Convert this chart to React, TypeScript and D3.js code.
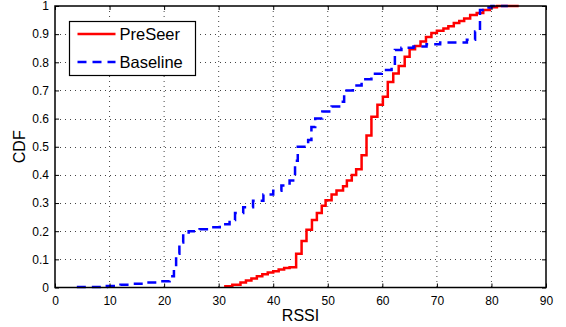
import React, { useEffect, useRef } from "react";
import * as d3 from "d3";

const preseerX = [31, 32.5, 34, 35, 36, 37, 38, 39, 40, 41, 42, 43, 44.2, 45.2, 46.1, 47.1, 48, 48.9, 49.6, 50.7, 51.6, 52.8, 53.5, 54.4, 55.2, 56.2, 57.1, 58, 59.1, 60.1, 61, 62, 63, 64.1, 65, 66, 67, 68, 69, 70, 71.2, 72.1, 73.1, 74.1, 75, 76.1, 77.3, 78.5, 79.7, 81, 85];
const preseerY = [0.004, 0.01, 0.018, 0.025, 0.032, 0.04, 0.047, 0.053, 0.058, 0.064, 0.069, 0.072, 0.12, 0.165, 0.205, 0.24, 0.265, 0.29, 0.31, 0.33, 0.345, 0.36, 0.38, 0.4, 0.42, 0.47, 0.54, 0.607, 0.649, 0.678, 0.73, 0.76, 0.787, 0.82, 0.846, 0.858, 0.874, 0.89, 0.904, 0.912, 0.92, 0.928, 0.94, 0.947, 0.956, 0.968, 0.975, 0.986, 0.996, 1, 1];

const baselineX = [4, 9.5, 12, 14.3, 16.8, 19.2, 21, 21.8, 22.2, 22.8, 23.5, 24.5, 26.5, 28.1, 30.2, 32, 33, 34.5, 36.3, 38.2, 40, 41.5, 43, 44, 44.5, 46.4, 47, 47.7, 49, 50.7, 52.5, 53, 54.6, 56.2, 58, 59.9, 61.7, 62.3, 63.5, 65.7, 68.1, 70.6, 75.5, 77, 77.9, 79, 80, 83];
const baselineY = [0.002, 0.005, 0.01, 0.013, 0.018, 0.022, 0.04, 0.08, 0.12, 0.16, 0.19, 0.2, 0.207, 0.214, 0.225, 0.24, 0.265, 0.285, 0.308, 0.33, 0.344, 0.362, 0.38, 0.45, 0.5, 0.524, 0.57, 0.6, 0.625, 0.643, 0.66, 0.7, 0.718, 0.74, 0.759, 0.773, 0.782, 0.844, 0.852, 0.856, 0.864, 0.87, 0.88, 0.909, 0.986, 0.995, 1, 1];

const xTicks = [0, 10, 20, 30, 40, 50, 60, 70, 80, 90];
const yTicks = [0, 0.1, 0.2, 0.3, 0.4, 0.5, 0.6, 0.7, 0.8, 0.9, 1];

const series = [
  { name: "PreSeer", xs: preseerX, ys: preseerY, color: "#ff0000", dash: "" },
  { name: "Baseline", xs: baselineX, ys: baselineY, color: "#0000ff", dash: "9,6" },
];

export default function App() {
  const svgRef = useRef<SVGSVGElement>(null);

  useEffect(() => {
    if (!svgRef.current) return;
    const svg = d3.select(svgRef.current);
    svg.selectAll("*").remove();

    const width = 566;
    const height = 327;
    const margin = { top: 6, right: 20, bottom: 39.5, left: 55 };
    const innerWidth = width - margin.left - margin.right;
    const innerHeight = height - margin.top - margin.bottom;
    const font = "'Liberation Sans', Arial, sans-serif";

    const x = d3.scaleLinear().domain([0, 90]).range([0, innerWidth]);
    const y = d3.scaleLinear().domain([0, 1]).range([innerHeight, 0]);

    const g = svg
      .append("g")
      .attr("transform", `translate(${margin.left},${margin.top})`);

    // dotted grid
    g.selectAll(".gx")
      .data(xTicks.slice(1, -1))
      .enter()
      .append("line")
      .attr("x1", (d) => x(d))
      .attr("x2", (d) => x(d))
      .attr("y1", 0)
      .attr("y2", innerHeight)
      .attr("stroke", "#444")
      .attr("stroke-width", 1)
      .attr("stroke-dasharray", "1,4");

    g.selectAll(".gy")
      .data(yTicks.slice(1, -1))
      .enter()
      .append("line")
      .attr("x1", 0)
      .attr("x2", innerWidth)
      .attr("y1", (d) => Math.round(y(d)) + 0.5)
      .attr("y2", (d) => Math.round(y(d)) + 0.5)
      .attr("stroke", "#444")
      .attr("stroke-width", 1)
      .attr("stroke-dasharray", "1,4");

    // curves
    series.forEach((s) => {
      const pts = s.xs.map((v, i) => [v, s.ys[i]] as [number, number]);
      const line = d3
        .line<[number, number]>()
        .x((d) => x(d[0]))
        .y((d) => y(d[1]))
        .curve(d3.curveStepAfter);
      g.append("path")
        .datum(pts)
        .attr("fill", "none")
        .attr("stroke", s.color)
        .attr("stroke-width", 2.5)
        .attr("stroke-dasharray", s.dash || null)
        .attr("d", line);
    });

    // frame
    g.append("rect")
      .attr("x", 0)
      .attr("y", 0)
      .attr("width", innerWidth)
      .attr("height", innerHeight)
      .attr("fill", "none")
      .attr("stroke", "#000")
      .attr("stroke-width", 1.5);

    // axes, ticks inward
    const xAxis = g
      .append("g")
      .attr("transform", `translate(0,${innerHeight})`)
      .call(d3.axisBottom(x).tickValues(xTicks).tickSize(-4).tickPadding(9).tickFormat(d3.format("d")));
    const yAxis = g
      .append("g")
      .call(d3.axisLeft(y).tickValues(yTicks).tickSize(-4).tickPadding(6).tickFormat((d) => String(+d)));
    g.append("g")
      .call(d3.axisTop(x).tickValues(xTicks).tickSize(-4).tickFormat(() => ""));
    g.append("g")
      .attr("transform", `translate(${innerWidth},0)`)
      .call(d3.axisRight(y).tickValues(yTicks).tickSize(-4).tickFormat(() => ""));

    g.selectAll(".domain").remove();
    g.selectAll(".tick line").attr("stroke", "#000");
    [xAxis, yAxis].forEach((a) =>
      a.selectAll("text").attr("font-family", font).attr("font-size", 12).attr("fill", "#000")
    );

    // axis labels
    svg
      .append("text")
      .attr("x", margin.left + innerWidth / 2)
      .attr("y", 321)
      .attr("text-anchor", "middle")
      .attr("font-family", font)
      .attr("font-size", 16)
      .text("RSSI");
    svg
      .append("text")
      .attr("transform", `translate(25,${margin.top + innerHeight / 2}) rotate(-90)`)
      .attr("text-anchor", "middle")
      .attr("font-family", font)
      .attr("font-size", 16)
      .text("CDF");

    // legend
    const lg = svg.append("g").attr("transform", "translate(69.5,21.5)");
    lg.append("rect")
      .attr("width", 126)
      .attr("height", 54)
      .attr("fill", "#fff")
      .attr("stroke", "#000")
      .attr("stroke-width", 1.2);
    series.forEach((s, i) => {
      const ly = 12.5 + i * 28;
      lg.append("line")
        .attr("x1", 8)
        .attr("x2", 46)
        .attr("y1", ly)
        .attr("y2", ly)
        .attr("stroke", s.color)
        .attr("stroke-width", 2.5)
        .attr("stroke-dasharray", s.dash || null);
      lg.append("text")
        .attr("x", 50)
        .attr("y", ly + 6)
        .attr("font-family", font)
        .attr("font-size", 16.5)
        .text(s.name);
    });
  }, []);

  return (
    <svg
      ref={svgRef}
      width={566}
      height={327}
      style={{ position: "absolute", left: 0, top: 0, background: "#fff" }}
    />
  );
}
